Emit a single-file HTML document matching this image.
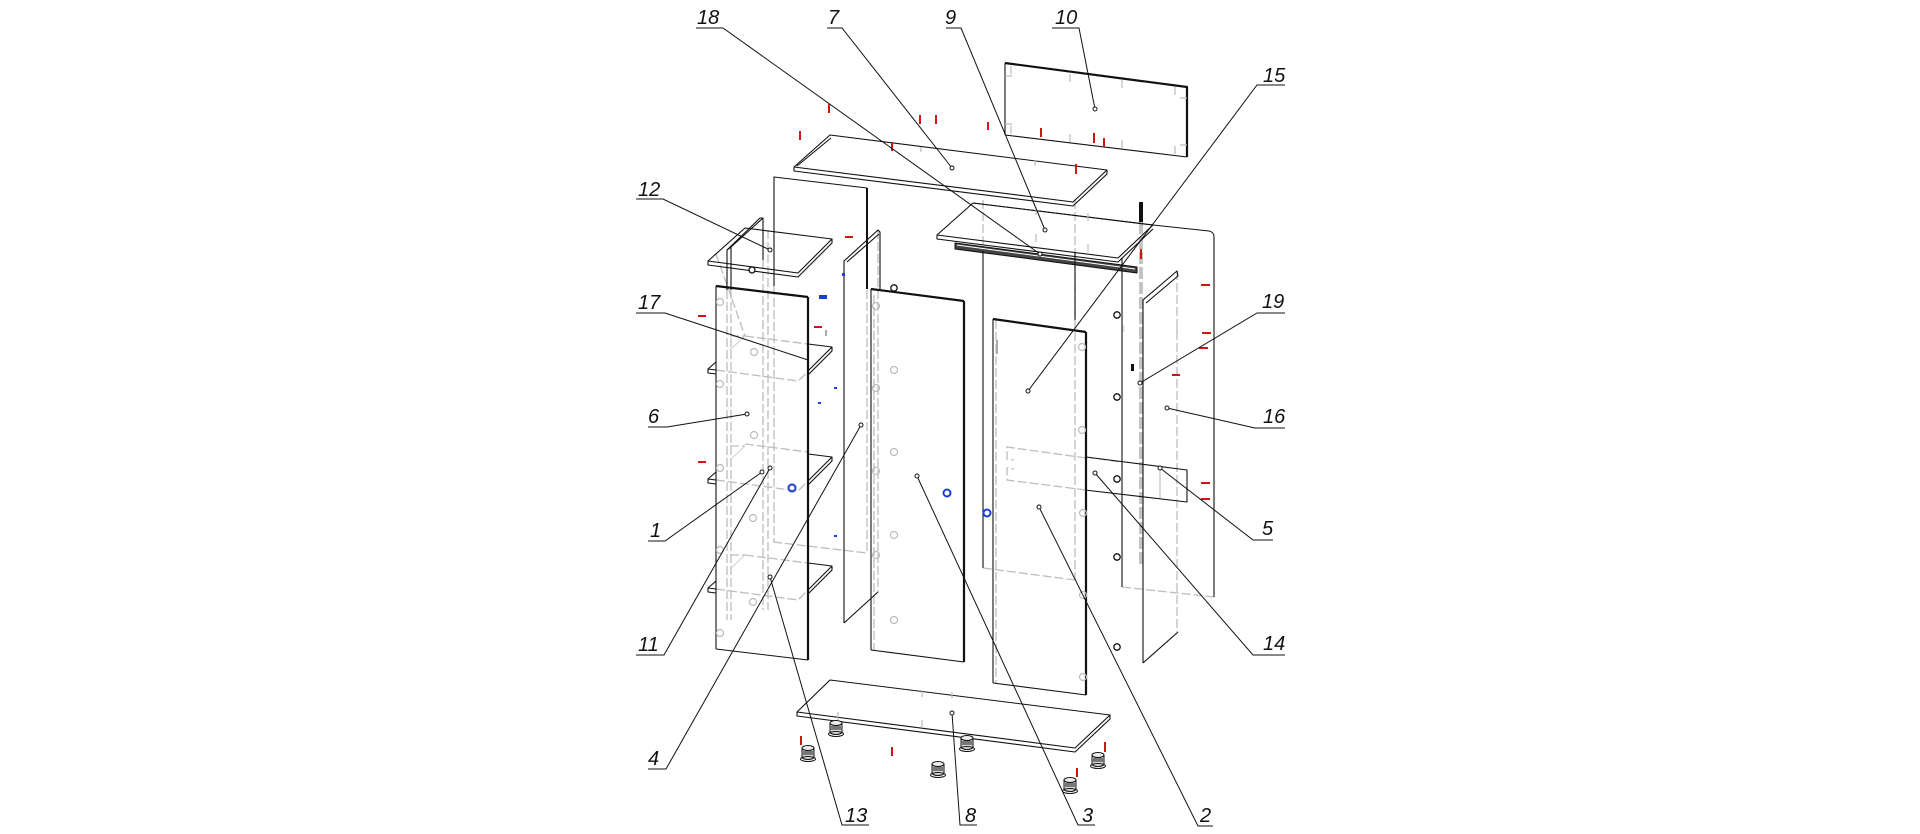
<!DOCTYPE html>
<html><head><meta charset="utf-8"><style>
html,body{margin:0;padding:0;background:#fff;}
svg{display:block;}
text{font-family:"Liberation Sans",sans-serif;font-style:italic;font-size:20px;fill:#111;}
</style></head><body>
<svg width="1920" height="834" viewBox="0 0 1920 834" xmlns="http://www.w3.org/2000/svg">
<defs>
<g id="leg">
<path d="M-6,0 L-6,9 A6,2.5 0 0 0 6,9 L6,0 Z" fill="#d8d8d8" stroke="#111" stroke-width="1"/>
<ellipse cx="0" cy="0" rx="6" ry="2.5" fill="#eee" stroke="#111" stroke-width="1"/>
<rect x="-5" y="3" width="10" height="4" fill="#777"/>
<ellipse cx="0" cy="11" rx="7.5" ry="2.5" fill="none" stroke="#111" stroke-width="1"/>
</g>
</defs>

<!-- ============ hidden (grey dashed) lines ============ -->
<g stroke="#bdbdbd" stroke-width="1.3" fill="none" stroke-dasharray="9 3">
<line x1="774" y1="286" x2="774" y2="542"/>
<line x1="867" y1="290" x2="867" y2="553"/>
<line x1="773" y1="542" x2="867" y2="553"/>
<line x1="727" y1="290" x2="727" y2="620"/>
<line x1="731" y1="290" x2="731" y2="620"/>
<line x1="763" y1="260" x2="763" y2="610"/>
<line x1="768" y1="230" x2="768" y2="610"/>
<path d="M716,254 L745,336 M745,336 L808,344 M716,370 L798,381 L808,372"/>
<path d="M745,444 L808,452 M716,480 L798,491 L808,481"/>
<path d="M745,555 L808,563 M716,589 L798,600 L808,590"/>
<path d="M730,336 L745,336 M730,446 L745,446 M730,555 L745,555"/>
<line x1="878" y1="230" x2="878" y2="592"/>
<line x1="874" y1="295" x2="874" y2="650"/>
<line x1="983" y1="200" x2="983" y2="250"/>
<line x1="1075" y1="200" x2="1075" y2="580"/>
<line x1="983" y1="568" x2="1075" y2="580"/>
<line x1="996" y1="320" x2="996" y2="683"/>
<path d="M1086,458 L1007,447 L1007,459 L1014,460"/>
<path d="M1086,490 L1007,480 L1007,468 L1014,469"/>
<line x1="1086" y1="457" x2="1120" y2="462"/>
<line x1="1177" y1="271" x2="1177" y2="632"/>
<line x1="1122" y1="587" x2="1214" y2="597" />
</g>
<line x1="1141" y1="222" x2="1141" y2="565" stroke="#c4c4c4" stroke-width="4" stroke-dasharray="12 3"/>
<line x1="1141" y1="202" x2="1141" y2="222" stroke="#111" stroke-width="4"/>

<!-- ============ solid black geometry ============ -->
<g stroke="#111" stroke-width="1.1" fill="none" stroke-linejoin="round">
<path d="M1005,135 L1005,63"/>
<path d="M1005,135 L1187,157"/>
<path d="M1005,63 L1187,87 L1187,157" stroke-width="2.2"/>
<path d="M794,167 L830,135 L1107,170 L1073,202 Z"/>
<path d="M794,167 L794,171 L1073,206 L1107,174 L1107,170"/>
<path d="M797,166 L831,138"/>
<path d="M937,235 L973,203 L1153,225 L1118,258 Z"/>
<path d="M937,235 L937,239 L1118,262 L1153,229"/>
<path d="M973,203 L1153,225 L1209,231 Q1214,232 1214,237 L1214,597"/>
<path d="M955,243 L1137,267 L1137,273 L955,249 Z" fill="#444" stroke-width="1"/>
<line x1="957" y1="245" x2="1135" y2="269" stroke="#fff" stroke-width="1"/>
<line x1="983" y1="251" x2="983" y2="568"/>
<line x1="1075" y1="253" x2="1075" y2="320"/>
<line x1="1122" y1="258" x2="1122" y2="587"/>
<path d="M1143,663 L1143,300 L1177,271 L1178,276 L1146,303"/>
<path d="M1143,663 L1178,632"/>
<path d="M1086,457 L1187,470 L1187,502 L1085,490"/>
<line x1="1160" y1="466" x2="1160" y2="498" stroke="#bbb"/>
<line x1="993" y1="319" x2="1086" y2="332" stroke-width="2.2"/>
<line x1="1086" y1="332" x2="1086" y2="695" stroke-width="2.2"/>
<line x1="993" y1="319" x2="993" y2="683"/>
<line x1="993" y1="683" x2="1086" y2="695"/>
<line x1="871" y1="289" x2="964" y2="301" stroke-width="2.2"/>
<line x1="964" y1="301" x2="964" y2="662" stroke-width="2.2"/>
<line x1="871" y1="289" x2="871" y2="650"/>
<line x1="871" y1="650" x2="964" y2="662"/>
<path d="M844,623 L844,261 L878,230 L880,232 L880,289"/>
<path d="M847,262 L879,234"/>
<path d="M844,623 L878,592"/>
<path d="M774,286 L774,177 L867,188"/>
<line x1="867" y1="188" x2="867" y2="289" stroke-width="2"/>
<path d="M727,290 L727,250 L731,247 L731,290"/>
<path d="M727,250 L760,218 L763,218 L731,247"/>
<line x1="763" y1="218" x2="763" y2="260"/>
<path d="M708,261 L745,228 L832,239 L798,273 Z"/>
<path d="M708,261 L708,265 L798,277 L832,243 L832,239"/>
<line x1="716" y1="286" x2="808" y2="297" stroke-width="2.2"/>
<line x1="808" y1="297" x2="808" y2="660" stroke-width="2.2"/>
<line x1="716" y1="286" x2="716" y2="649"/>
<line x1="716" y1="649" x2="808" y2="660"/>
<g>
<path d="M716,362 L708,369 L708,373 L716,374 M708,369 L716,370"/>
<path d="M808,344 L832,347 L808,371 M832,347 L832,351 L808,375"/>
<path d="M716,472 L708,479 L708,483 L716,484 M708,479 L716,480"/>
<path d="M808,454 L832,457 L808,481 M832,457 L832,461 L808,485"/>
<path d="M716,581 L708,588 L708,592 L716,593 M708,588 L716,589"/>
<path d="M808,563 L832,566 L808,590 M832,566 L832,570 L808,594"/>
</g>
<path d="M797,712 L830,680 L1110,715 L1075,748 Z"/>
<path d="M797,712 L797,716 L1075,752 L1110,719 L1110,715"/>
</g>

<g stroke="#cfcfcf" stroke-width="1" fill="none">
<path d="M745,336 L730,350 M745,446 L730,460 M745,555 L730,569"/>
</g>

<g stroke="#bbb" stroke-width="1.2" fill="none">
<circle cx="720" cy="302" r="3.5"/><circle cx="720" cy="384" r="3.5"/><circle cx="720" cy="468" r="3.5"/>
<circle cx="720" cy="550" r="3.5"/><circle cx="720" cy="633" r="3.5"/>
<circle cx="754" cy="352" r="3.5"/><circle cx="754" cy="435" r="3.5"/><circle cx="753" cy="518" r="3.5"/><circle cx="753" cy="602" r="3.5"/>
<circle cx="876" cy="306" r="3.5"/><circle cx="894" cy="370" r="3.5"/><circle cx="876" cy="388" r="3.5"/>
<circle cx="894" cy="452" r="3.5"/><circle cx="876" cy="471" r="3.5"/><circle cx="894" cy="535" r="3.5"/>
<circle cx="876" cy="555" r="3.5"/><circle cx="894" cy="620" r="3.5"/>
<circle cx="1082" cy="347" r="3.5"/><circle cx="1082" cy="430" r="3.5"/><circle cx="1083" cy="513" r="3.5"/>
<circle cx="1083" cy="595" r="3.5"/><circle cx="1083" cy="677" r="3.5"/>
</g>
<g stroke="#bbb" stroke-width="1.2">
<line x1="1011" y1="66" x2="1011" y2="74"/><line x1="1070" y1="74" x2="1070" y2="82"/><line x1="1122" y1="80" x2="1122" y2="88"/><line x1="1175" y1="87" x2="1175" y2="95"/>
<line x1="1011" y1="126" x2="1011" y2="134"/><line x1="1070" y1="134" x2="1070" y2="142"/><line x1="1122" y1="140" x2="1122" y2="148"/><line x1="1175" y1="146" x2="1175" y2="154"/>
<line x1="1005" y1="76" x2="1012" y2="76"/><line x1="1005" y1="124" x2="1012" y2="124"/><line x1="1180" y1="98" x2="1187" y2="98"/><line x1="1180" y1="145" x2="1187" y2="145"/>
<line x1="921" y1="147" x2="921" y2="152"/><line x1="1035" y1="160" x2="1035" y2="166"/>
<line x1="1036" y1="207" x2="1036" y2="215"/><line x1="1088" y1="213" x2="1088" y2="221"/><line x1="1036" y1="234" x2="1036" y2="242"/><line x1="1088" y1="244" x2="1088" y2="252"/>
<line x1="1123" y1="325" x2="1123" y2="332"/><line x1="1177" y1="328" x2="1177" y2="334"/><line x1="1177" y1="370" x2="1177" y2="376"/>
<line x1="838" y1="712" x2="838" y2="720"/><line x1="922" y1="720" x2="922" y2="728"/><line x1="922" y1="690" x2="922" y2="697"/><line x1="952" y1="692" x2="952" y2="698"/>
</g>

<g stroke="#111" stroke-width="1.3" fill="#fff">
<circle cx="1117" cy="315" r="3.2"/><circle cx="1117" cy="397" r="3.2"/><circle cx="1117" cy="479" r="3.2"/><circle cx="1117" cy="647" r="3.2"/>
<circle cx="1117" cy="557" r="3.2"/>
<circle cx="894" cy="288" r="3.2"/>
<circle cx="752" cy="270" r="3"/>
</g>
<g fill="#111">
<rect x="1131" y="364" width="3" height="7"/>
<rect x="996" y="340" width="2" height="14" fill="#aaa"/>
<rect x="825" y="330" width="2" height="6" fill="#aaa"/>
</g>

<use href="#leg" x="836" y="723"/>
<use href="#leg" x="967" y="738"/>
<use href="#leg" x="808" y="748"/>
<use href="#leg" x="938" y="764"/>
<use href="#leg" x="1098" y="755"/>
<use href="#leg" x="1070" y="780"/>

<g fill="#d21414">
<rect x="828" y="104" width="2" height="9"/>
<rect x="799" y="131" width="2" height="9"/>
<rect x="919" y="115" width="2" height="9"/>
<rect x="935" y="115" width="2" height="9"/>
<rect x="891" y="142" width="2" height="9"/>
<rect x="987" y="122" width="2" height="8"/>
<rect x="1040" y="128" width="2" height="9"/>
<rect x="1093" y="133" width="2" height="10"/>
<rect x="1103" y="138" width="2" height="9"/>
<rect x="1075" y="164" width="2" height="10"/>
<rect x="1140" y="249" width="2" height="10"/>
<rect x="800" y="736" width="2" height="9"/>
<rect x="891" y="747" width="2" height="9"/>
<rect x="1076" y="768" width="2" height="9"/>
<rect x="1104" y="742" width="2" height="10"/>
<rect x="1201" y="284" width="9" height="2"/>
<rect x="1202" y="332" width="9" height="2"/>
<rect x="1199" y="347" width="9" height="2"/>
<rect x="1172" y="374" width="8" height="2"/>
<rect x="1201" y="482" width="9" height="2"/>
<rect x="1201" y="498" width="9" height="2"/>
<rect x="698" y="315" width="8" height="2"/>
<rect x="698" y="461" width="8" height="2"/>
<rect x="845" y="236" width="8" height="2"/>
<rect x="814" y="326" width="8" height="2"/>
</g>

<g fill="#1a3fd8">
<rect x="819" y="295" width="8" height="4"/>
<circle cx="947" cy="493" r="3.5" fill="none" stroke="#1a3fd8" stroke-width="2"/>
<circle cx="987" cy="513" r="3.5" fill="none" stroke="#1a3fd8" stroke-width="2"/>
<circle cx="792" cy="488" r="3.5" fill="none" stroke="#1a3fd8" stroke-width="2"/>
<rect x="834" y="387" width="3" height="2"/>
<rect x="818" y="402" width="3" height="2"/>
<rect x="842" y="273" width="3" height="3"/>
<rect x="834" y="535" width="3" height="2"/>
</g>

<g stroke="#111" stroke-width="1" fill="none">
<path d="M696,28 L723,28 L1040,254"/>
<path d="M827,28 L842,28 L952,168"/>
<path d="M946,28 L961,28 L1045,230"/>
<path d="M1052,28 L1079,28 L1095,109"/>
<path d="M1285,85 L1257,85 L1028,391"/>
<path d="M636,199 L663,199 L770,250"/>
<path d="M636,313 L665,313 L808,360"/>
<path d="M648,427 L667,427 L747,414"/>
<path d="M648,541 L665,541 L762,472"/>
<path d="M636,655 L664,655 L770,468"/>
<path d="M648,769 L666,769 L861,425"/>
<path d="M869,825 L842,825 L770,577"/>
<path d="M977,825 L960,825 L952,713"/>
<path d="M1095,825 L1078,825 L917,476"/>
<path d="M1213,826 L1198,826 L1039,507"/>
<path d="M1285,655 L1253,655 L1095,473"/>
<path d="M1273,540 L1253,540 L1160,468"/>
<path d="M1285,313 L1257,313 L1140,383"/>
<path d="M1285,428 L1255,428 L1167,408"/>
</g>
<g stroke="#111" stroke-width="1" fill="#fff">
<circle cx="1040" cy="254" r="2"/><circle cx="952" cy="168" r="2"/><circle cx="1045" cy="230" r="2"/>
<circle cx="1095" cy="109" r="2"/><circle cx="1028" cy="391" r="2"/><circle cx="770" cy="250" r="2"/>
<circle cx="747" cy="414" r="2"/><circle cx="762" cy="472" r="2"/><circle cx="770" cy="468" r="2"/>
<circle cx="861" cy="425" r="2"/><circle cx="770" cy="577" r="2"/><circle cx="952" cy="713" r="2"/>
<circle cx="917" cy="476" r="2"/><circle cx="1039" cy="507" r="2"/><circle cx="1095" cy="473" r="2"/>
<circle cx="1160" cy="468" r="2"/><circle cx="1140" cy="383" r="2"/><circle cx="1167" cy="408" r="2"/>
</g>
<g>
<text x="697" y="24">18</text>
<text x="828" y="24">7</text>
<text x="945" y="24">9</text>
<text x="1055" y="24">10</text>
<text x="1263" y="82">15</text>
<text x="638" y="196">12</text>
<text x="638" y="309">17</text>
<text x="648" y="423">6</text>
<text x="650" y="537">1</text>
<text x="638" y="651">11</text>
<text x="648" y="765">4</text>
<text x="845" y="822">13</text>
<text x="965" y="822">8</text>
<text x="1082" y="822">3</text>
<text x="1200" y="822">2</text>
<text x="1263" y="650">14</text>
<text x="1262" y="535">5</text>
<text x="1262" y="308">19</text>
<text x="1263" y="423">16</text>
</g>
</svg>
</body></html>
